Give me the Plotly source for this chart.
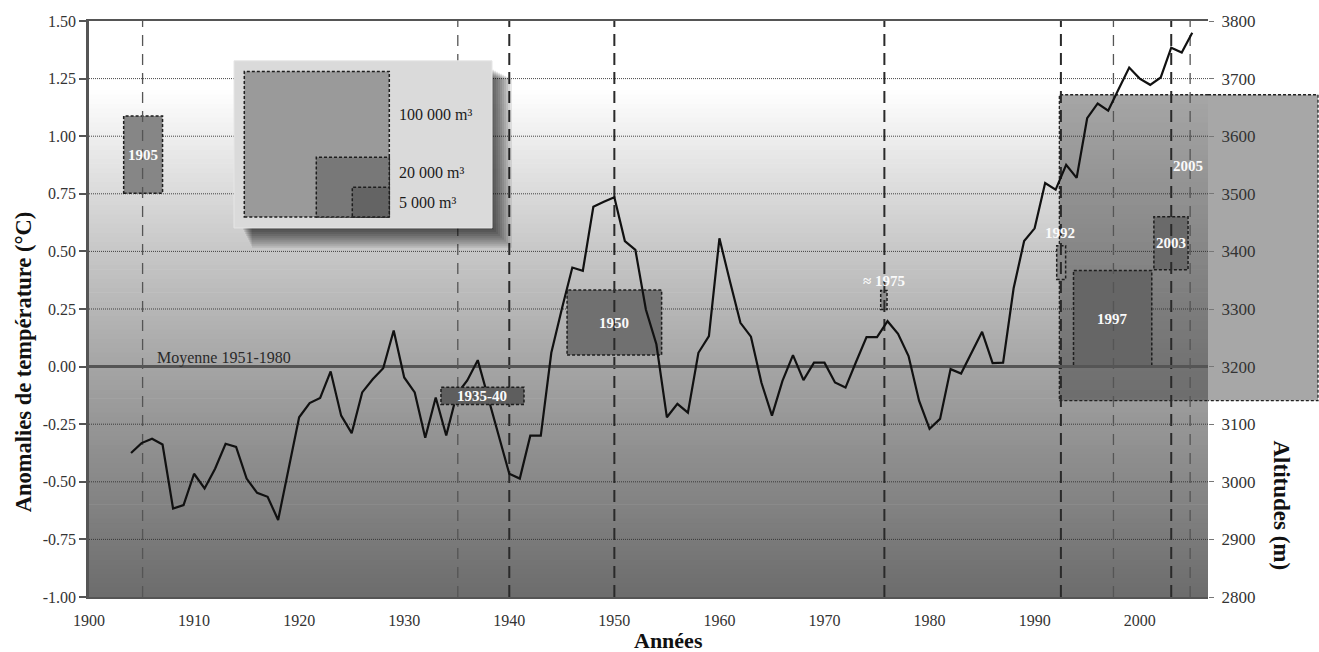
import plotly.graph_objects as go

# ---------------- data ----------------
years = list(range(1904, 2006))
anomalies = [
    -0.375, -0.332, -0.313, -0.338, -0.616, -0.601, -0.465, -0.529, -0.443, -0.335,  # 1904-1913
    -0.349, -0.486, -0.548, -0.565, -0.666, -0.440, -0.220, -0.158, -0.136, -0.021,  # 1914-1923
    -0.213, -0.289, -0.112, -0.055, -0.007, 0.157, -0.047, -0.112, -0.309, -0.134,   # 1924-1933
    -0.299, -0.120, -0.060, 0.028, -0.140, -0.300, -0.465, -0.486, -0.300, -0.300,   # 1934-1943
    0.060, 0.250, 0.430, 0.416, 0.694, 0.715, 0.735, 0.545, 0.507, 0.248,            # 1944-1953
    0.097, -0.220, -0.162, -0.200, 0.060, 0.132, 0.557, 0.370, 0.190, 0.130,         # 1954-1963
    -0.070, -0.213, -0.062, 0.050, -0.059, 0.017, 0.017, -0.069, -0.091, 0.020,      # 1964-1973
    0.128, 0.128, 0.197, 0.142, 0.046, -0.148, -0.270, -0.227, -0.011, -0.030,       # 1974-1983
    0.060, 0.151, 0.015, 0.017, 0.340, 0.545, 0.600, 0.797, 0.768, 0.876,           # 1984-1993
    0.819, 1.078, 1.142, 1.111, 1.205, 1.298, 1.250, 1.223, 1.255, 1.384,           # 1994-2003
    1.363, 1.449,                                                                     # 2004-2005
]
assert len(years) == len(anomalies)

x_tick_years = [1900, 1910, 1920, 1930, 1940, 1950, 1960, 1970, 1980, 1990, 2000]
x_tick_labels = ["1900", "1910", "1920", "1930", "1940", "1950", "1960", "1970", "1980", "1990", "2000"]
left_ticks = [-1.0, -0.75, -0.5, -0.25, 0.0, 0.25, 0.5, 0.75, 1.0, 1.25, 1.5]
left_tick_labels = ["-1.00", "-0.75", "-0.50", "-0.25", "0.00", "0.25", "0.50", "0.75", "1.00", "1.25", "1.50"]
right_ticks = [2800, 2900, 3000, 3100, 3200, 3300, 3400, 3500, 3600, 3700, 3800]
right_tick_labels = ["2800", "2900", "3000", "3100", "3200", "3300", "3400", "3500", "3600", "3700", "3800"]

# event marker years (dashed verticals)
event_years_major = [1940, 1950, 1975.7, 1992.5, 2003]
event_years_minor = [1905.1, 1935.1, 1997.5, 2004.8]

# collapse events: box extents (years, altitude m)
box_labels = ["1905", "1935-40", "1950", "\u2248 1975", "1992", "1997", "2003", "2005"]
box_year_start = [1903.3, 1933.5, 1945.5, 1975.35, 1992.1, 1993.7, 2001.35, 1992.35]
box_year_end = [1907.0, 1941.4, 1954.5, 1975.95, 1992.95, 2001.15, 2004.6, 2017.0]
box_alt_low = [3501, 3134, 3220, 3299, 3351, 3199, 3368, 3141]
box_alt_high = [3635, 3164, 3333, 3332, 3410, 3367, 3460, 3672]

legend_volumes = ["100 000 m\u00b3", "20 000 m\u00b3", "5 000 m\u00b3"]
mean_label = "Moyenne 1951-1980"

# ---------------- styling helpers ----------------
FONT = "Liberation Serif"
L, R, T, B = 89, 111, 18, 55
W, H = 1319, 652
PW, PH = W - L - R, H - T - B


def px(xp):
    return (xp - L) / PW


def py(yp):
    return (H - B - yp) / PH


shapes = []
annotations = []

# background gradient (white at top, grey at bottom)
stops = [(-1.0, 108), (-0.75, 122), (-0.5, 136), (-0.25, 150), (0.0, 165), (0.25, 182),
         (0.5, 199), (0.75, 218), (1.0, 238), (1.2, 255), (1.5, 255)]


def grey_at(v):
    for (a, ca), (b, cb) in zip(stops[:-1], stops[1:]):
        if a <= v <= b:
            t = (v - a) / (b - a)
            return ca + t * (cb - ca)
    return stops[-1][1]


n = 125
step = 2.5 / n
for i in range(n):
    y0 = -1.0 + i * step
    g = int(round(grey_at(y0 + step / 2)))
    shapes.append(dict(type="rect", xref="paper", yref="y", x0=0, x1=1, y0=y0, y1=y0 + step + 0.003,
                       fillcolor=f"rgb({g},{g},{g})", line=dict(width=0), layer="below"))

# dotted horizontal grid lines (drawn under the boxes)
for v in left_ticks[1:-1]:
    if v == 0.0:
        continue
    shapes.append(dict(type="line", xref="paper", yref="y", x0=0, x1=1, y0=v, y1=v,
                       line=dict(color="rgba(50,50,50,0.9)", width=1, dash="1px,1px"), layer="below"))

BOX_LINE = dict(color="#1e1e1e", width=1.5, dash="3px,2px")

# big 2005 box (semi transparent); inside part clipped to the plot, outside part to the page edge
i5 = box_labels.index("2005")
fill5 = "rgba(45,45,45,0.42)"
shapes.append(dict(type="rect", xref="x", yref="y2", x0=box_year_start[i5], x1=box_year_end[i5],
                   y0=box_alt_low[i5], y1=box_alt_high[i5], fillcolor=fill5,
                   line=dict(color="#222", width=1.3, dash="3px,2px"), layer="below"))
xe = px(1318)
shapes.append(dict(type="rect", xref="paper", yref="y2", x0=1, x1=xe,
                   y0=box_alt_low[i5], y1=box_alt_high[i5], fillcolor=fill5, line=dict(width=0), layer="below"))
shapes.append(dict(type="path", xref="paper", yref="y2",
                   path=f"M1,{box_alt_high[i5]} L{xe},{box_alt_high[i5]} L{xe},{box_alt_low[i5]} L1,{box_alt_low[i5]}",
                   line=dict(color="#222", width=1.3, dash="3px,2px"), layer="below"))

box_fill = {"1905": "#868686", "1935-40": "#5e5e5e", "1950": "#707070", "\u2248 1975": "#8c8c8c",
            "1992": "#8a8a8a", "1997": "#666666", "2003": "#6a6a6a"}
for lab, xs, xe_, lo, hi in zip(box_labels, box_year_start, box_year_end, box_alt_low, box_alt_high):
    if lab == "2005":
        continue
    shapes.append(dict(type="rect", xref="x", yref="y2", x0=xs, x1=xe_, y0=lo, y1=hi,
                       fillcolor=box_fill[lab], line=BOX_LINE,
                       layer="above" if lab == "1935-40" else "below"))

# dashed event lines
for yr in event_years_major:
    shapes.append(dict(type="line", xref="x", yref="y", x0=yr, x1=yr, y0=-1, y1=1.5,
                       line=dict(color="#2a2a2a", width=2, dash="12px,7px"), layer="below"))
for yr in event_years_minor:
    shapes.append(dict(type="line", xref="x", yref="y", x0=yr, x1=yr, y0=-1, y1=1.5,
                       line=dict(color="#555555", width=1.3, dash="11px,8px"), layer="below"))

# legend inset with shadow
for d in range(2, 22, 2):
    shapes.append(dict(type="rect", xref="paper", yref="paper", x0=px(242 + d / 2), x1=px(492 + d),
                       y0=py(226 + d), y1=py(66 + d / 2), fillcolor="rgba(0,0,0,0.085)", line=dict(width=0),
                       layer="above"))
shapes.append(dict(type="rect", xref="paper", yref="paper", x0=px(234), x1=px(492), y0=py(226), y1=py(58),
                   fillcolor="#dadada", line=dict(color="#e6e6e6", width=1), layer="above"))
for (x0, y0, col) in [(244.3, 68.7, "#9a9a9a"), (316.3, 155, "#787878"), (352.3, 185, "#646464")]:
    shapes.append(dict(type="rect", xref="paper", yref="paper", x0=px(x0), x1=px(389.3), y0=py(215),
                       y1=py(y0), fillcolor=col, line=BOX_LINE, layer="above"))
for txt, yc in zip(legend_volumes, [112, 170, 200]):
    annotations.append(dict(xref="paper", yref="paper", x=px(397), y=py(yc), xanchor="left", yanchor="middle",
                            text=txt, showarrow=False, font=dict(family=FONT, size=16, color="#1a1a1a")))

# box labels
label_pos = {}
for lab, xs, xe_, lo, hi in zip(box_labels, box_year_start, box_year_end, box_alt_low, box_alt_high):
    label_pos[lab] = ((xs + xe_) / 2, (lo + hi) / 2, "middle")
label_pos["\u2248 1975"] = (1975.7, 3332, "bottom")
label_pos["1992"] = (1992.45, 3414, "bottom")
label_pos["2005"] = (2004.6, 3548, "middle")
for lab in box_labels:
    xx, yy, ya = label_pos[lab]
    annotations.append(dict(xref="x", yref="y2", x=xx, y=yy, xanchor="center", yanchor=ya, text=f"<b>{lab}</b>",
                            showarrow=False, font=dict(family=FONT, size=15, color="#fafafa")))

# mean label
annotations.append(dict(xref="paper", yref="y", x=px(155), y=0.0, yshift=9, xanchor="left", yanchor="middle",
                        text=mean_label, showarrow=False, font=dict(family=FONT, size=16, color="#2a2a2a")))

# axis titles
annotations.append(dict(xref="paper", yref="paper", x=px(23), y=py(361), xanchor="center", yanchor="middle",
                        textangle=-90, text="<b>Anomalies de température (°C)</b>", showarrow=False,
                        font=dict(family=FONT, size=22.5, color="#111")))
annotations.append(dict(xref="paper", yref="paper", x=px(1282), y=py(505), xanchor="center", yanchor="middle",
                        textangle=90, text="<b>Altitudes (m)</b>", showarrow=False,
                        font=dict(family=FONT, size=23, color="#111")))
annotations.append(dict(xref="paper", yref="paper", x=px(668), y=py(641), xanchor="center", yanchor="middle",
                        text="<b>Années</b>", showarrow=False, font=dict(family=FONT, size=22, color="#111")))

fig = go.Figure()
fig.add_trace(go.Scatter(x=years, y=anomalies, mode="lines", line=dict(color="#111111", width=2.2),
                         hoverinfo="skip", showlegend=False))
fig.add_trace(go.Scatter(x=[(a + b) / 2 for a, b in zip(box_year_start, box_year_end)],
                         y=[(a + b) / 2 for a, b in zip(box_alt_low, box_alt_high)], yaxis="y2",
                         mode="markers", marker=dict(opacity=0), hoverinfo="skip", showlegend=False))

tickfont = dict(family=FONT, size=16, color="#333")
fig.update_layout(
    width=W, height=H, margin=dict(l=L, r=R, t=T, b=B),
    paper_bgcolor="white", plot_bgcolor="white", showlegend=False,
    xaxis=dict(range=[1900, 2006.5], tickmode="array", tickvals=x_tick_years, ticktext=x_tick_labels,
               showgrid=False, zeroline=False, showline=True, linecolor="#555", linewidth=2, mirror=True,
               ticks="outside", ticklen=8, tickcolor="rgba(0,0,0,0)", tickfont=tickfont),
    yaxis=dict(range=[-1, 1.5], tickmode="array", tickvals=left_ticks, ticktext=left_tick_labels,
               showgrid=False, zeroline=True, zerolinecolor="#555", zerolinewidth=2.5,
               showline=True, linecolor="#555", linewidth=2.5, ticks="outside", ticklen=7,
               tickcolor="#555", tickwidth=1.5, tickfont=tickfont),
    yaxis2=dict(overlaying="y", side="right", range=[2800, 3800], tickmode="array", tickvals=right_ticks,
                ticktext=right_tick_labels, showgrid=False, zeroline=False, showline=False,
                ticks="outside", ticklen=5, tickcolor="#777", tickfont=dict(family=FONT, size=17, color="#333"),
                ticklabelstandoff=4),
    shapes=shapes, annotations=annotations,
)

fig.write_html("out.html", config={"displayModeBar": False},
               post_script="document.body.style.margin='0px';")
